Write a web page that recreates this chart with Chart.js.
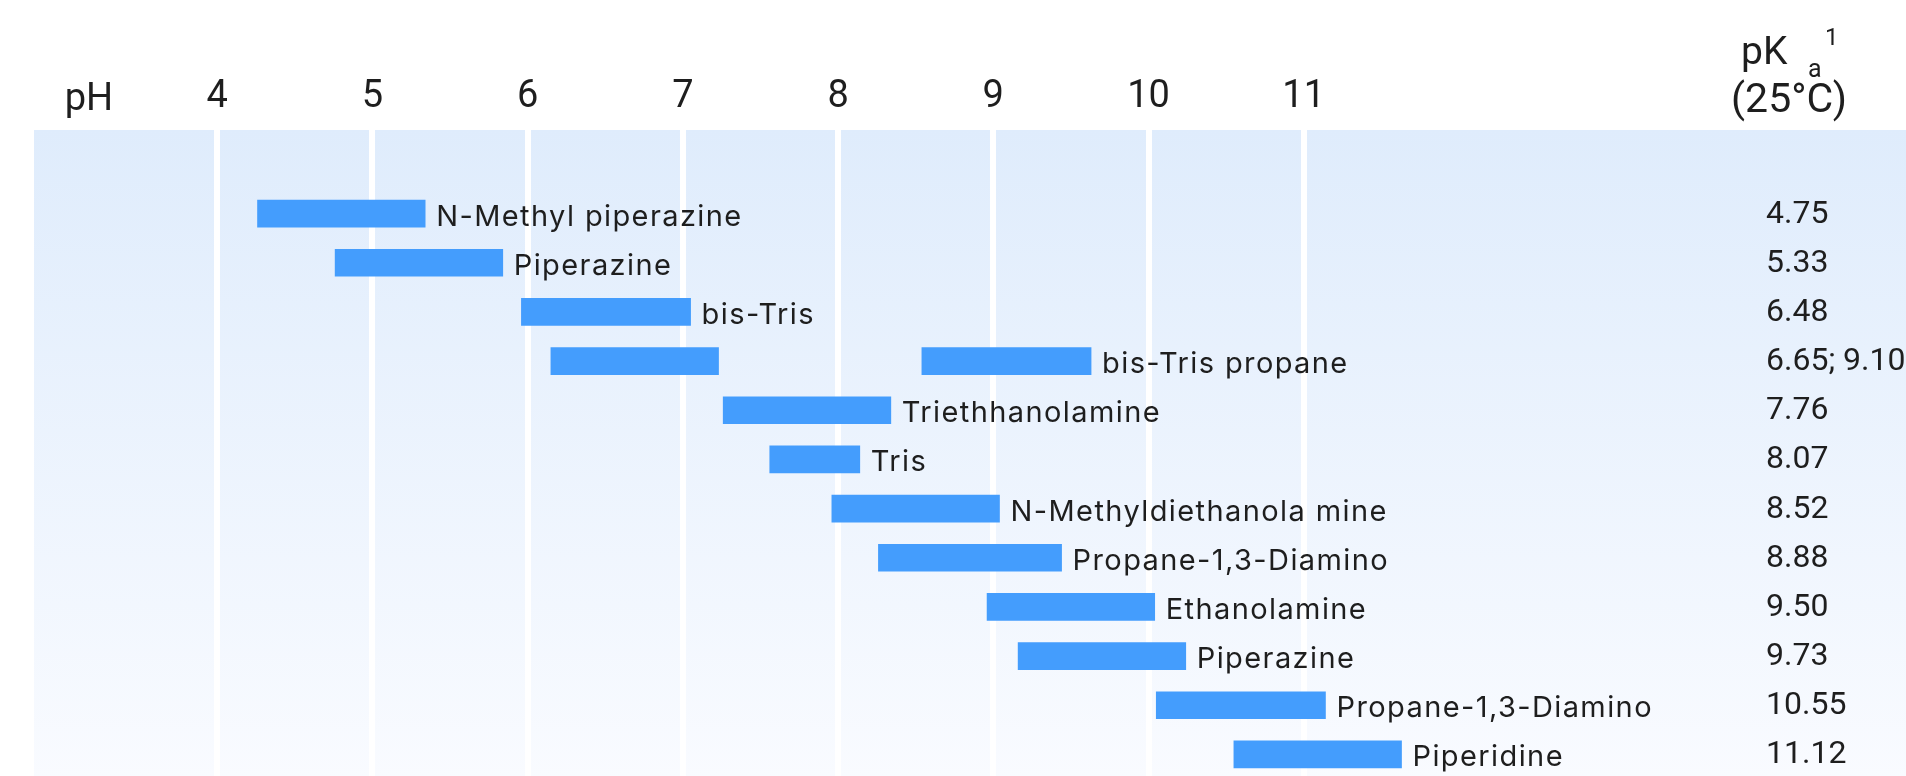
<!DOCTYPE html>
<html>
<head>
<meta charset="utf-8">
<title>Buffer pH ranges</title>
<script src="https://cdn.jsdelivr.net/npm/chart.js@4.4.1/dist/chart.umd.min.js"></script>
<style>
  html, body { margin: 0; padding: 0; background: #ffffff; overflow: hidden; }
  #wrap { width: 1906px; height: 776px; overflow: hidden; }
  canvas { display: block; }
</style>
</head>
<body>
<div id="wrap">
  <canvas id="bufferChart" width="1906" height="779"></canvas>
</div>
<script>
// buffers, top to bottom
const buffers = [
  'N-Methyl piperazine',
  'Piperazine',
  'bis-Tris',
  'bis-Tris propane',
  'Triethhanolamine',
  'Tris',
  'N-Methyldiethanola mine',
  'Propane-1,3-Diamino',
  'Ethanolamine',
  'Piperazine',
  'Propane-1,3-Diamino',
  'Piperidine'
];

// useful pH range of each buffer
const rangeLow = [4.26, 4.76, 5.96, 6.15, 7.26, 7.56, 7.96, 8.26, 8.96, 9.16, 10.05, 10.55];
const rangeHigh = [5.34, 5.84, 7.05, 7.23, 8.34, 8.14, 9.04, 9.44, 10.04, 10.24, 11.14, 11.63];

// second range (only bis-Tris propane has one)
const secondLow = [null, null, null, 8.54, null, null, null, null, null, null, null, null];
const secondHigh = [null, null, null, 9.63, null, null, null, null, null, null, null, null];

const pkaValues = ['4.75', '5.33', '6.48', '6.65; 9.10', '7.76', '8.07', '8.52', '8.88', '9.50', '9.73', '10.55', '11.12'];

const phTicks = [4, 5, 6, 7, 8, 9, 10, 11];

const barColor = '#449dfd';
const textColor = '#1e1e1e';

function pairs(lo, hi) {
  return lo.map((v, i) => (v === null ? null : [v, hi[i]]));
}

// light blue band behind the plot, fading to white
const bandBackground = {
  id: 'bandBackground',
  beforeDraw(chart) {
    const { ctx, chartArea } = chart;
    const top = chartArea.top - chart.scales.x.options.grid.tickLength;
    const grad = ctx.createLinearGradient(0, top, 0, chart.height);
    grad.addColorStop(0, '#dfecfc');
    grad.addColorStop(1, '#f9fbff');
    ctx.save();
    ctx.fillStyle = grad;
    ctx.fillRect(chartArea.left, top, chartArea.right - chartArea.left, chart.height - top);
    ctx.restore();
  }
};

// buffer names after the bars, pKa column and headers
const rowText = {
  id: 'rowText',
  afterDatasetsDraw(chart) {
    const { ctx, scales } = chart;
    const x = scales.x;
    const y = scales.y;
    ctx.save();
    ctx.fillStyle = textColor;

    ctx.font = '29px Inter';
    ctx.letterSpacing = '1.4px';
    ctx.textAlign = 'left';
    ctx.textBaseline = 'alphabetic';
    buffers.forEach((name, i) => {
      const end = secondHigh[i] !== null ? secondHigh[i] : rangeHigh[i];
      const cy = y.getPixelForValue(i);
      ctx.fillText(name, x.getPixelForValue(end) + 11, cy + 12);
    });

    ctx.letterSpacing = '0px';
    ctx.font = '32px Roboto';
    pkaValues.forEach((txt, i) => {
      const cy = y.getPixelForValue(i);
      ctx.fillText(txt, 1766, cy + 9);
    });

    // header row
    ctx.font = '38px Roboto';
    ctx.textAlign = 'center';
    ctx.fillText('pH', 89, 110);

    ctx.textAlign = 'left';
    ctx.font = '39px Roboto';
    ctx.fillText('pK', 1741, 64);
    ctx.font = '25px Roboto';
    ctx.fillText('a', 1808, 77);
    ctx.font = '24px Roboto';
    ctx.fillText('1', 1825, 45);
    ctx.font = '41px Roboto';
    ctx.textAlign = 'center';
    ctx.fillText('(25°C)', 1789, 112);
    ctx.restore();
  }
};

const chart = new Chart(document.getElementById('bufferChart'), {
  type: 'bar',
  data: {
    labels: buffers,
    datasets: [
      {
        data: pairs(rangeLow, rangeHigh),
        backgroundColor: barColor,
        barThickness: 27,
        grouped: false
      },
      {
        data: pairs(secondLow, secondHigh),
        backgroundColor: barColor,
        barThickness: 27,
        grouped: false
      }
    ]
  },
  options: {
    responsive: false,
    animation: false,
    indexAxis: 'y',
    layout: { padding: { left: 34, right: 0, top: 0, bottom: 0 } },
    plugins: {
      legend: { display: false },
      tooltip: { enabled: false }
    },
    scales: {
      x: {
        type: 'linear',
        position: 'top',
        min: 2.82,
        max: 14.88,
        afterBuildTicks: (scale) => {
          scale.ticks = phTicks.map((v) => ({ value: v }));
        },
        afterFit: (scale) => {
          scale.height = 189;
        },
        border: { display: false },
        grid: {
          color: '#ffffff',
          lineWidth: 6,
          drawTicks: true,
          tickLength: 59
        },
        ticks: {
          color: textColor,
          font: { family: 'Roboto', size: 38 },
          padding: 10,
          maxRotation: 0,
          autoSkip: false,
          callback: (v) => String(v)
        }
      },
      y: {
        type: 'category',
        display: false,
        offset: true
      }
    }
  },
  plugins: [bandBackground, rowText]
});
</script>
</body>
</html>
